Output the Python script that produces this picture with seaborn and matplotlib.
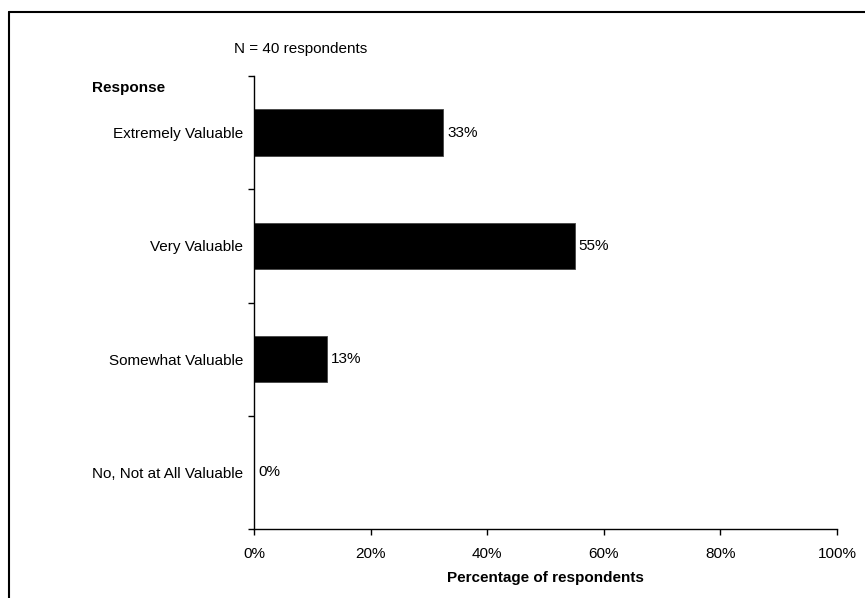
import matplotlib
matplotlib.use("Agg")
import matplotlib.pyplot as plt
from matplotlib.lines import Line2D
import pandas as pd
import seaborn as sns

# datos del gráfico
respuestas = ["Extremely Valuable", "Very Valuable", "Somewhat Valuable",
              "No, Not at All Valuable"]
porcentajes = [32.5, 55.0, 12.5, 0.0]
etiquetas_valor = ["33%", "55%", "13%", "0%"]
ticks_x = [0, 20, 40, 60, 80, 100]
etiquetas_x = ["0%", "20%", "40%", "60%", "80%", "100%"]

W, H = 865, 598

sns.set_theme(style="white")
plt.rcParams["font.family"] = ["Liberation Sans", "DejaVu Sans"]
plt.rcParams["font.size"] = 11
plt.rcParams["text.color"] = "black"
plt.rcParams["axes.labelcolor"] = "black"

fig = plt.figure(figsize=(W / 100, H / 100), dpi=100)
ax = fig.add_axes([254 / W, 1 - 529 / H, (837 - 254) / W, (529 - 76) / H])

df = pd.DataFrame({"Response": respuestas, "Pct": porcentajes})
sns.barplot(data=df, x="Pct", y="Response", orient="h", color="black",
            width=0.41, edgecolor="#444444", linewidth=0.6, ax=ax,
            saturation=1)

ax.bar_label(ax.containers[0], labels=etiquetas_valor, padding=3,
             fontsize=11, color="black")

ax.set_xlim(0, 100)
ax.set_ylim(len(respuestas) - 0.5, -0.5)
ax.set_xticks(ticks_x)
ax.set_xticklabels(etiquetas_x)

# separadores como ticks mayores, nombres como ticks menores
ax.set_yticks([i - 0.5 for i in range(len(respuestas) + 1)])
ax.set_yticklabels([])
ax.set_yticks(range(len(respuestas)), minor=True)
ax.set_yticklabels(respuestas, minor=True)

ax.tick_params(axis="both", which="major", direction="out", length=4,
               width=1, color="black", labelsize=11, labelcolor="black",
               bottom=True, left=True)
ax.tick_params(axis="x", pad=9)
ax.tick_params(axis="y", which="minor", length=0, pad=8, labelsize=11,
               labelcolor="black", left=True)

for lado in ["top", "right"]:
    ax.spines[lado].set_visible(False)
for lado in ["left", "bottom"]:
    ax.spines[lado].set_color("black")
    ax.spines[lado].set_linewidth(1)

ax.set_xlabel("Percentage of respondents", fontweight="bold", fontsize=11,
              labelpad=7.5, color="black")
ax.set_ylabel("")

fig.text(234 / W, 1 - 49 / H, "N = 40 respondents", ha="left", va="center",
         fontsize=11, color="black")
fig.text(92 / W, 1 - 88 / H, "Response", ha="left", va="center",
         fontsize=11, fontweight="bold", color="black")

# marco exterior
fig.add_artist(Line2D([9 / W, 1.01], [1 - 12 / H, 1 - 12 / H],
                      transform=fig.transFigure, color="black", lw=1.5))
fig.add_artist(Line2D([9 / W, 9 / W], [-0.01, 1 - 12 / H],
                      transform=fig.transFigure, color="black", lw=1.5))

fig.savefig("out.png", dpi=100)
